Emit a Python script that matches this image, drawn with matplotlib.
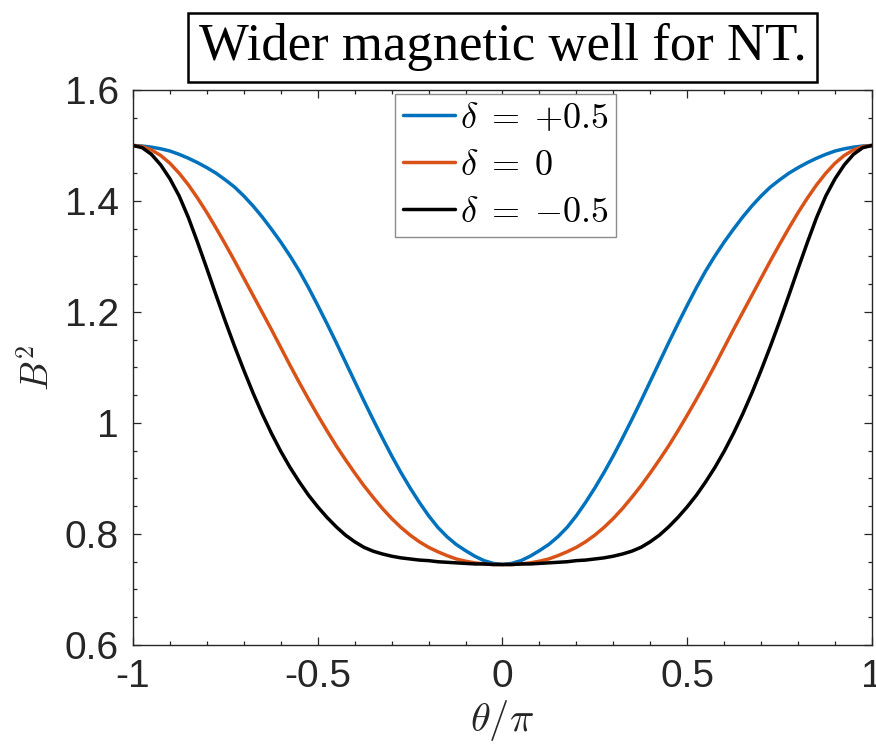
import matplotlib
matplotlib.use("Agg")
import matplotlib.pyplot as plt
from matplotlib.ticker import FixedLocator, MultipleLocator

plt.rcParams['font.family'] = ['Liberation Sans', 'DejaVu Sans']
plt.rcParams['mathtext.fontset'] = 'cm'
plt.rcParams['axes.unicode_minus'] = False

# ---- data ----
theta_over_pi = [-1.000, -0.975, -0.950, -0.925, -0.900, -0.875, -0.850, -0.825, -0.800, -0.775,
                 -0.750, -0.725, -0.700, -0.675, -0.650, -0.625, -0.600, -0.575, -0.550, -0.525,
                 -0.500, -0.475, -0.450, -0.425, -0.400, -0.375, -0.350, -0.325, -0.300, -0.275,
                 -0.250, -0.225, -0.200, -0.175, -0.150, -0.125, -0.100, -0.075, -0.050, -0.025,
                 0.000,
                 0.025, 0.050, 0.075, 0.100, 0.125, 0.150, 0.175, 0.200, 0.225, 0.250,
                 0.275, 0.300, 0.325, 0.350, 0.375, 0.400, 0.425, 0.450, 0.475, 0.500,
                 0.525, 0.550, 0.575, 0.600, 0.625, 0.650, 0.675, 0.700, 0.725, 0.750,
                 0.775, 0.800, 0.825, 0.850, 0.875, 0.900, 0.925, 0.950, 0.975, 1.000]

b2_delta_pos = [1.500, 1.499, 1.497, 1.494, 1.490, 1.484, 1.477, 1.469, 1.460, 1.450,
                1.438, 1.425, 1.409, 1.391, 1.371, 1.349, 1.326, 1.301, 1.274, 1.244,
                1.212, 1.179, 1.145, 1.110, 1.075, 1.040, 1.006, 0.973, 0.941, 0.911,
                0.883, 0.857, 0.833, 0.812, 0.795, 0.781, 0.770, 0.760, 0.752, 0.747,
                0.745,
                0.747, 0.752, 0.760, 0.770, 0.781, 0.795, 0.812, 0.833, 0.857, 0.883,
                0.911, 0.941, 0.973, 1.006, 1.040, 1.075, 1.110, 1.145, 1.179, 1.212,
                1.244, 1.274, 1.301, 1.326, 1.349, 1.371, 1.391, 1.409, 1.425, 1.438,
                1.450, 1.460, 1.469, 1.477, 1.484, 1.490, 1.494, 1.497, 1.499, 1.500]

b2_delta_zero = [1.500, 1.498, 1.492, 1.482, 1.468, 1.450, 1.429, 1.405, 1.379, 1.351,
                 1.322, 1.292, 1.261, 1.230, 1.199, 1.168, 1.136, 1.104, 1.073, 1.043,
                 1.014, 0.986, 0.959, 0.934, 0.910, 0.887, 0.866, 0.846, 0.828, 0.812,
                 0.798, 0.786, 0.776, 0.768, 0.761, 0.755, 0.751, 0.748, 0.746, 0.745,
                 0.745,
                 0.745, 0.746, 0.748, 0.751, 0.755, 0.761, 0.768, 0.776, 0.786, 0.798,
                 0.812, 0.828, 0.846, 0.866, 0.887, 0.910, 0.934, 0.959, 0.986, 1.014,
                 1.043, 1.073, 1.104, 1.136, 1.168, 1.199, 1.230, 1.261, 1.292, 1.322,
                 1.351, 1.379, 1.405, 1.429, 1.450, 1.468, 1.482, 1.492, 1.498, 1.500]

b2_delta_neg = [1.500, 1.496, 1.484, 1.465, 1.440, 1.409, 1.370, 1.325, 1.278, 1.230,
                1.183, 1.138, 1.095, 1.054, 1.016, 0.981, 0.949, 0.920, 0.894, 0.870,
                0.849, 0.830, 0.813, 0.798, 0.786, 0.776, 0.769, 0.764, 0.760, 0.757,
                0.755, 0.753, 0.752, 0.750, 0.749, 0.748, 0.747, 0.746, 0.746, 0.745,
                0.745,
                0.745, 0.746, 0.746, 0.747, 0.748, 0.749, 0.750, 0.752, 0.753, 0.755,
                0.757, 0.760, 0.764, 0.769, 0.776, 0.786, 0.798, 0.813, 0.830, 0.849,
                0.870, 0.894, 0.920, 0.949, 0.981, 1.016, 1.054, 1.095, 1.138, 1.183,
                1.230, 1.278, 1.325, 1.370, 1.409, 1.440, 1.465, 1.484, 1.496, 1.500]

series_labels = [r'$\delta\;=\;{+}0.5$', r'$\delta\;=\;0$', r'$\delta\;=\;{-}0.5$']
series_colors = ['#0072BD', '#D95319', '#000000']

x_ticks = [-1, -0.5, 0, 0.5, 1]
x_ticklabels = ['-1', '-0.5', '0', '0.5', '1']
y_ticks = [0.6, 0.8, 1.0, 1.2, 1.4, 1.6]
y_ticklabels = ['0.6', '0.8', '1', '1.2', '1.4', '1.6']

title_text = 'Wider magnetic well for NT.'
xlabel_text = r'$\theta/\pi$'
ylabel_text = r'$B^2$'

# ---- figure ----
fig = plt.figure(figsize=(8.76, 7.46), dpi=100)
ax = fig.add_axes([0.1518, 0.1354, 0.8436, 0.7440])

axis_color = '#262626'
for yv, lab, col in zip([b2_delta_pos, b2_delta_zero, b2_delta_neg], series_labels, series_colors):
    ax.plot(theta_over_pi, yv, color=col, lw=2.5, label=lab,
            solid_joinstyle='round', solid_capstyle='round')

ax.set_xlim(-1, 1)
ax.set_ylim(0.6, 1.6)
ax.xaxis.set_major_locator(FixedLocator(x_ticks))
ax.set_xticklabels(x_ticklabels)
ax.yaxis.set_major_locator(FixedLocator(y_ticks))
ax.set_yticklabels(y_ticklabels)
ax.xaxis.set_minor_locator(MultipleLocator(0.1))
ax.yaxis.set_minor_locator(MultipleLocator(0.05))

ax.tick_params(which='both', direction='in', top=True, right=True, color=axis_color, width=0.9)
ax.tick_params(which='major', length=6, labelsize=28, labelcolor=axis_color, pad=10)
ax.tick_params(which='minor', length=3)
for s in ax.spines.values():
    s.set_color(axis_color)
    s.set_linewidth(1.0)

ax.set_xlabel(xlabel_text, fontsize=29, color=axis_color, labelpad=2)
ax.set_ylabel(ylabel_text, fontsize=27, color=axis_color, labelpad=6)

leg = ax.legend(loc='upper center', bbox_to_anchor=(0.5045, 0.993), fontsize=26,
                frameon=True, fancybox=False, edgecolor='#8c8c8c', framealpha=1,
                handlelength=1.45, handletextpad=0.15, labelspacing=0.33,
                borderpad=0.2, borderaxespad=0)
leg.get_frame().set_linewidth(1.0)

ax.text(0.5, 1.077, title_text, transform=ax.transAxes, ha='center', va='center',
        fontsize=38, family=['Liberation Serif', 'DejaVu Serif'], color='black',
        bbox=dict(boxstyle='square,pad=0.2', facecolor='white', edgecolor='black', linewidth=1.8))

fig.savefig('out.png', dpi=100)
